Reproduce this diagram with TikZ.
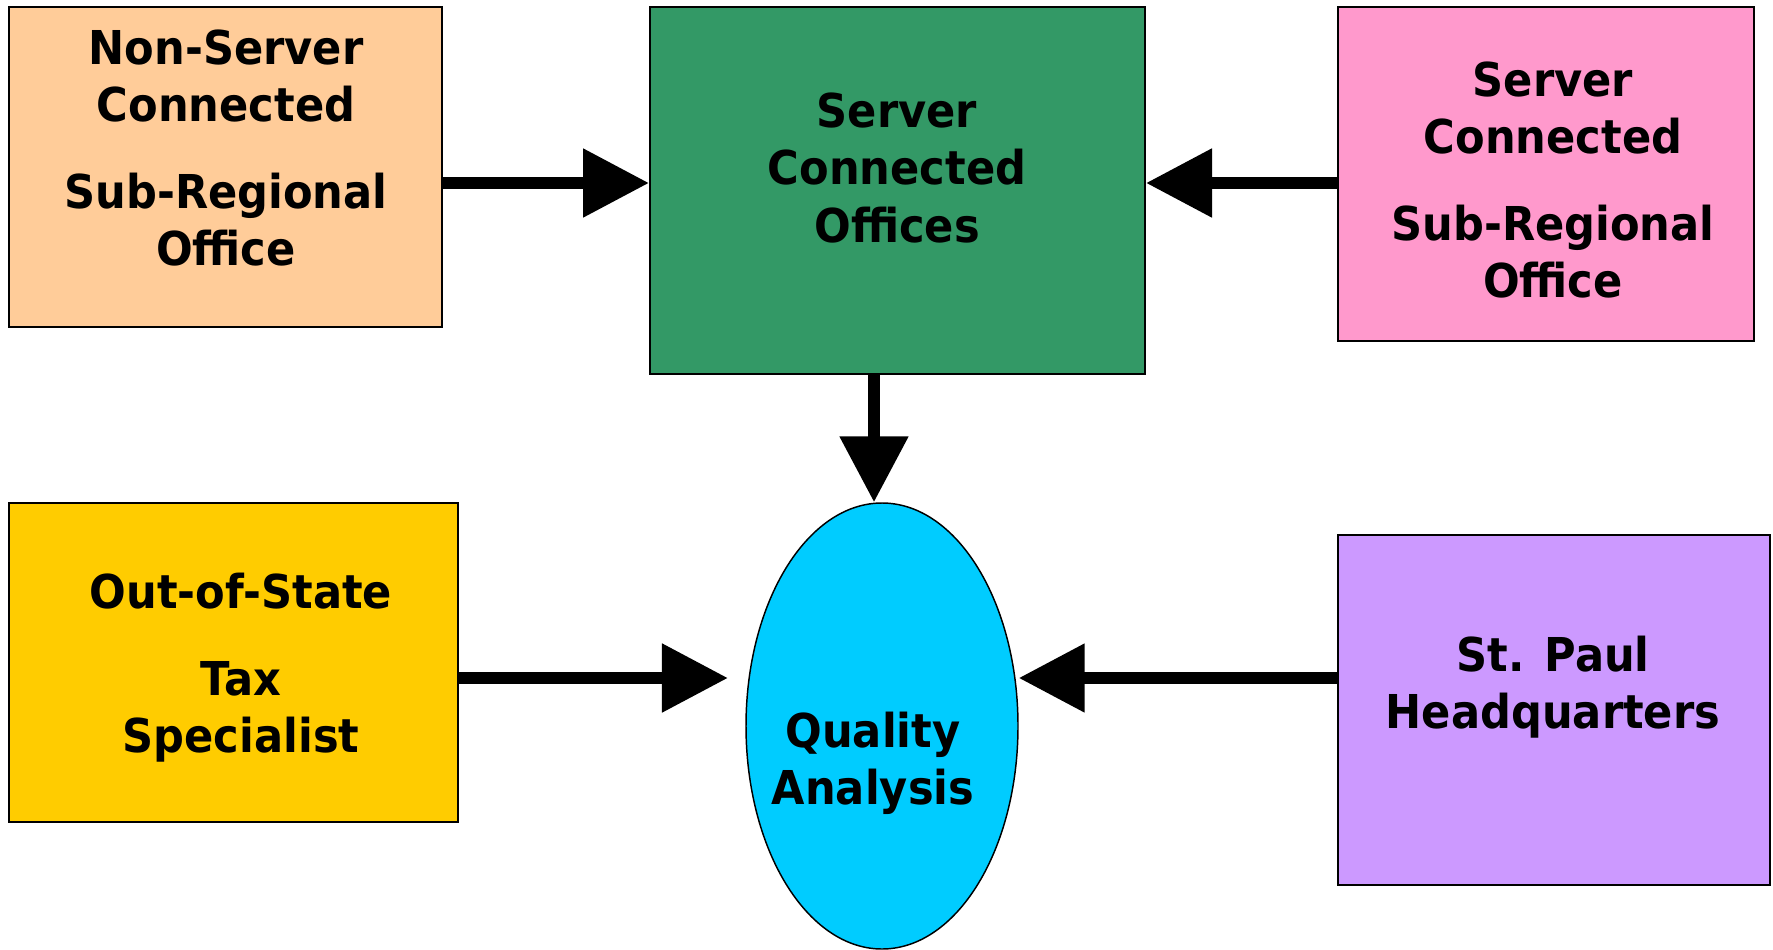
\documentclass[tikz,border=0pt]{standalone}
\usepackage{fontspec}
\setmainfont{DejaVu Sans}[FakeStretch=0.925]
\usetikzlibrary{shapes.geometric,arrows.meta}

\definecolor{peach}{RGB}{255,204,153}
\definecolor{seagreen}{RGB}{51,153,102}
\definecolor{rose}{RGB}{255,153,204}
\definecolor{gold}{RGB}{255,204,0}
\definecolor{skyblue}{RGB}{0,204,255}
\definecolor{lavender}{RGB}{204,153,255}

\tikzset{
  box/.style={draw=black,line width=1.5pt,inner sep=0pt},
  lbl/.style={align=center,inner sep=0pt,font=\fontsize{35}{43}\selectfont\bfseries},
  flow/.style={line width=9pt,-{Triangle[length=49.5pt,width=49.5pt]}}
}

\begin{document}
\begin{tikzpicture}[x=0.75pt,y=0.75pt,yscale=-1,xscale=1]
\useasboundingbox (0,0) rectangle (1773,949);

%Boxes
\node [box,fill=peach,minimum width=324.75pt,minimum height=240pt] (nonsrv) at (225.5,167) {};
\node [box,fill=seagreen,minimum width=371.25pt,minimum height=275.25pt] (srvoff) at (897.5,190.5) {};
\node [box,fill=rose,minimum width=312pt,minimum height=250.5pt] (srvsub) at (1546,174) {};
\node [box,fill=gold,minimum width=336.75pt,minimum height=239.25pt] (taxspec) at (233.5,662.5) {};
\node [box,fill=lavender,minimum width=324pt,minimum height=262.5pt] (hq) at (1554,710) {};
%Ellipse
\node [draw=black,line width=1.1pt,fill=skyblue,ellipse,inner sep=0pt,minimum width=204pt,minimum height=334.5pt] (qa) at (882,726) {};

% Text Node
\node [lbl] (nonsrvtxt) at (226,148) {Non-Server\\Connected\\[22pt]Sub-Regional\\Office};
% Text Node
\node [lbl] (srvofftxt) at (897,168) {Server\\Connected\\Offices};
% Text Node
\node [lbl] (srvsubtxt) at (1553,180) {Server\\Connected\\[22pt]Sub-Regional\\Office};
% Text Node
\node [lbl] (taxspectxt) at (241,668) {Out-of-State\\[22pt]Tax\\Specialist};
% Text Node
\node [lbl] (qatxt) at (873,763) {Quality\\Analysis};
% Text Node
\node [lbl] (hqtxt) at (1553,687) {St. Paul\\Headquarters};

%Arrows
\coordinate (rowA) at (0,183);
\coordinate (rowB) at (0,678);
\coordinate (colA) at (874,0);
\draw [flow] (nonsrv.east |- rowA) -- (srvoff.west |- rowA);
\draw [flow] (srvsub.west |- rowA) -- (srvoff.east |- rowA);
\draw [flow] (srvoff.south -| colA) -- (qa.north -| colA);
\draw [flow] (taxspec.east |- rowB) -- ([xshift=-13pt]qa.west |- rowB);
\draw [flow] (hq.west |- rowB) -- (qa.east |- rowB);

\end{tikzpicture}
\end{document}
